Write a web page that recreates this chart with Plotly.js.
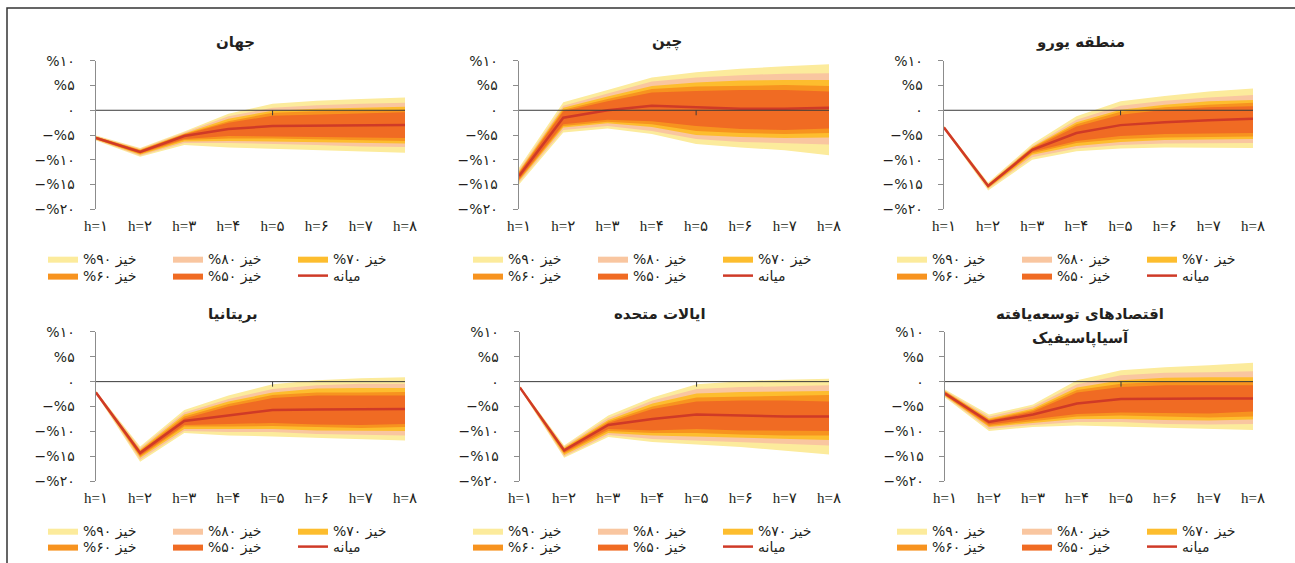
<!DOCTYPE html>
<html><head><meta charset="utf-8">
<script src="https://cdn.plot.ly/plotly-3.0.1.min.js"></script>
<style>html,body{margin:0;padding:0;background:#fff}#chart{width:1295px;height:563px}</style>
</head><body><div id="chart"></div>
<script>
// ---------- categories & tick labels ----------
const horizons = [1, 2, 3, 4, 5, 6, 7, 8];
const hLabels = ['h=۱', 'h=۲', 'h=۳', 'h=۴', 'h=۵', 'h=۶', 'h=۷', 'h=۸'];
const yTickVals = [10, 5, 0, -5, -10, -15, -20];
const yTickText = ['%۱۰', '%۵', '۰', '−%۵', '−%۱۰', '−%۱۵', '−%۲۰'];
const bandNames = ['\u202Bخیز ۹۰%\u202C', '\u202Bخیز ۸۰%\u202C', '\u202Bخیز ۷۰%\u202C', '\u202Bخیز ۶۰%\u202C', '\u202Bخیز ۵۰%\u202C'];
const medianName = 'میانه';
const titles = ['جهان', 'چین', 'منطقه یورو', 'بریتانیا', 'ایالات متحده', 'اقتصادهای توسعه‌یافته'];
const subtitle6 = 'آسیاپاسیفیک';

// ---------- جهان ----------
const world_med  = [-5.6, -8.4, -5.2, -3.8, -3.2, -3.1, -3.0, -3.0];
const world_hi90 = [-5.1, -7.6, -4.3, -0.7, 1.3, 1.9, 2.3, 2.6];
const world_hi80 = [-5.2, -7.8, -4.5, -1.2, 0.5, 1.0, 1.3, 1.5];
const world_hi70 = [-5.3, -7.95, -4.7, -1.7, -0.1, 0.3, 0.5, 0.7];
const world_hi60 = [-5.35, -8.05, -4.8, -2.2, -0.5, -0.2, -0.1, 0.1];
const world_hi50 = [-5.4, -8.15, -4.9, -2.5, -1.1, -0.9, -0.7, -0.4];
const world_lo50 = [-5.8, -8.7, -5.8, -5.2, -5.2, -5.4, -5.5, -5.6];
const world_lo60 = [-5.85, -8.85, -6.0, -5.7, -5.7, -5.8, -6.0, -6.2];
const world_lo70 = [-5.9, -9.0, -6.3, -6.2, -6.4, -6.5, -6.6, -6.7];
const world_lo80 = [-6.0, -9.2, -6.6, -6.6, -6.8, -7.0, -7.3, -7.4];
const world_lo90 = [-6.1, -9.4, -7.0, -7.5, -7.8, -8.1, -8.3, -8.6];

// ---------- چین ----------
const china_med  = [-13.3, -1.5, 0.0, 0.9, 0.6, 0.3, 0.3, 0.5];
const china_hi90 = [-11.6, 1.6, 4.1, 6.6, 7.7, 8.4, 8.9, 9.3];
const china_hi80 = [-12.0, 0.9, 3.4, 5.8, 6.6, 7.1, 7.4, 7.5];
const china_hi70 = [-12.3, 0.5, 2.8, 4.9, 5.6, 6.0, 6.1, 6.1];
const china_hi60 = [-12.5, 0.1, 2.3, 4.3, 4.8, 5.0, 5.1, 4.9];
const china_hi50 = [-12.7, -0.2, 1.8, 3.6, 3.9, 4.1, 4.1, 3.8];
const china_lo50 = [-13.9, -2.8, -1.9, -2.2, -3.2, -3.8, -4.0, -3.7];
const china_lo60 = [-14.1, -3.2, -2.3, -2.8, -4.2, -4.6, -4.8, -4.6];
const china_lo70 = [-14.3, -3.5, -2.6, -3.4, -5.0, -5.4, -5.6, -5.5];
const china_lo80 = [-14.6, -4.0, -3.2, -4.2, -5.8, -6.4, -6.6, -6.9];
const china_lo90 = [-15.0, -4.5, -3.7, -4.8, -6.8, -7.5, -8.1, -9.1];

// ---------- منطقه یورو ----------
const euro_med  = [-3.5, -15.3, -8.0, -4.6, -3.0, -2.4, -2.0, -1.7];
const euro_hi90 = [-3.2, -14.6, -6.8, -1.2, 1.8, 2.9, 3.8, 4.4];
const euro_hi80 = [-3.25, -14.8, -7.2, -1.9, 0.9, 1.9, 2.6, 3.1];
const euro_hi70 = [-3.3, -14.9, -7.4, -2.4, 0.1, 1.1, 1.8, 2.1];
const euro_hi60 = [-3.35, -15.0, -7.5, -2.8, -0.3, 0.6, 1.1, 1.5];
const euro_hi50 = [-3.4, -15.1, -7.7, -3.3, -0.9, 0.1, 0.6, 0.8];
const euro_lo50 = [-3.6, -15.5, -8.4, -6.2, -5.2, -4.8, -4.7, -4.6];
const euro_lo60 = [-3.65, -15.6, -8.7, -6.6, -5.8, -5.5, -5.4, -5.3];
const euro_lo70 = [-3.7, -15.75, -9.0, -7.2, -6.4, -6.0, -5.9, -5.8];
const euro_lo80 = [-3.75, -15.9, -9.5, -7.7, -7.0, -6.7, -6.6, -6.6];
const euro_lo90 = [-3.8, -16.2, -10.0, -8.3, -7.7, -7.5, -7.5, -7.6];

// ---------- بریتانیا ----------
const uk_med  = [-2.2, -14.3, -7.9, -6.8, -5.7, -5.6, -5.5, -5.5];
const uk_hi90 = [-1.9, -13.0, -5.7, -2.8, -0.5, 0.3, 0.7, 0.9];
const uk_hi80 = [-1.95, -13.3, -6.2, -3.5, -1.5, -0.7, -0.4, -0.4];
const uk_hi70 = [-2.0, -13.6, -6.6, -4.0, -2.2, -1.4, -1.3, -1.3];
const uk_hi60 = [-2.05, -13.8, -7.0, -4.5, -2.7, -2.2, -2.2, -2.1];
const uk_hi50 = [-2.1, -14.0, -7.4, -5.0, -3.3, -2.8, -2.8, -2.8];
const uk_lo50 = [-2.3, -14.8, -8.7, -8.5, -8.3, -8.6, -8.7, -8.5];
const uk_lo60 = [-2.35, -15.0, -9.0, -9.0, -8.9, -9.1, -9.3, -9.1];
const uk_lo70 = [-2.4, -15.3, -9.5, -9.5, -9.5, -9.8, -9.9, -9.9];
const uk_lo80 = [-2.45, -15.7, -9.9, -10.1, -10.1, -10.5, -10.7, -10.8];
const uk_lo90 = [-2.5, -16.1, -10.3, -10.8, -11.0, -11.3, -11.5, -11.8];

// ---------- ایالات متحده ----------
const us_med  = [-1.2, -13.8, -8.7, -7.5, -6.6, -6.8, -7.0, -7.0];
const us_hi90 = [-0.9, -12.8, -6.8, -3.2, -0.5, 0.1, 0.4, 0.6];
const us_hi80 = [-0.95, -13.0, -7.3, -3.8, -1.5, -1.1, -0.9, -0.7];
const us_hi70 = [-1.0, -13.2, -7.7, -4.4, -2.4, -2.1, -2.0, -1.9];
const us_hi60 = [-1.05, -13.4, -8.0, -5.0, -3.2, -3.0, -2.8, -2.7];
const us_hi50 = [-1.1, -13.5, -8.3, -5.5, -4.0, -3.8, -3.8, -4.0];
const us_lo50 = [-1.3, -14.2, -9.5, -9.8, -9.5, -9.8, -9.9, -9.9];
const us_lo60 = [-1.35, -14.4, -9.9, -10.3, -10.3, -10.6, -10.8, -10.8];
const us_lo70 = [-1.4, -14.7, -10.3, -10.8, -11.0, -11.3, -11.5, -11.7];
const us_lo80 = [-1.45, -15.0, -10.7, -11.5, -11.8, -12.1, -12.5, -12.8];
const us_lo90 = [-1.5, -15.3, -11.1, -12.1, -12.6, -13.1, -13.8, -14.6];

// ---------- اقتصادهای توسعه‌یافته آسیاپاسیفیک ----------
const apac_med  = [-2.4, -8.1, -6.6, -4.4, -3.5, -3.4, -3.4, -3.4];
const apac_hi90 = [-1.6, -6.6, -4.6, 0.3, 2.3, 2.9, 3.3, 3.8];
const apac_hi80 = [-1.8, -7.0, -5.0, -0.5, 1.3, 1.8, 1.9, 2.1];
const apac_hi70 = [-1.9, -7.4, -5.4, -1.2, 0.3, 0.8, 0.9, 0.9];
const apac_hi60 = [-2.0, -7.6, -5.7, -1.7, -0.4, 0.0, 0.1, 0.1];
const apac_hi50 = [-2.1, -7.8, -6.0, -2.2, -1.1, -0.7, -0.7, -0.7];
const apac_lo50 = [-2.7, -8.6, -7.6, -6.5, -6.2, -6.3, -6.4, -6.0];
const apac_lo60 = [-2.8, -8.9, -7.9, -7.0, -6.8, -7.0, -7.2, -7.0];
const apac_lo70 = [-2.9, -9.1, -8.3, -7.5, -7.5, -7.7, -7.8, -7.6];
const apac_lo80 = [-3.0, -9.5, -8.7, -8.1, -8.1, -8.5, -8.6, -8.5];
const apac_lo90 = [-3.2, -9.9, -9.1, -8.8, -9.0, -9.3, -9.5, -9.7];

// ---------- style ----------
const bandColors = ['#FCEB9C', '#F9C6A0', '#FDBD2E', '#F7931F', '#F06B23'];
const medianColor = '#CF3A27';
const axisGray = '#8c8c8c';
const textColor = '#231f20';
const FONT = 'DejaVu Sans, Noto Sans, sans-serif';
const ZERO_TICK_AT = 5;

const panelData = [
  {med: world_med, hi: [world_hi90, world_hi80, world_hi70, world_hi60, world_hi50], lo: [world_lo90, world_lo80, world_lo70, world_lo60, world_lo50]},
  {med: china_med, hi: [china_hi90, china_hi80, china_hi70, china_hi60, china_hi50], lo: [china_lo90, china_lo80, china_lo70, china_lo60, china_lo50]},
  {med: euro_med, hi: [euro_hi90, euro_hi80, euro_hi70, euro_hi60, euro_hi50], lo: [euro_lo90, euro_lo80, euro_lo70, euro_lo60, euro_lo50]},
  {med: uk_med, hi: [uk_hi90, uk_hi80, uk_hi70, uk_hi60, uk_hi50], lo: [uk_lo90, uk_lo80, uk_lo70, uk_lo60, uk_lo50]},
  {med: us_med, hi: [us_hi90, us_hi80, us_hi70, us_hi60, us_hi50], lo: [us_lo90, us_lo80, us_lo70, us_lo60, us_lo50]},
  {med: apac_med, hi: [apac_hi90, apac_hi80, apac_hi70, apac_hi60, apac_hi50], lo: [apac_lo90, apac_lo80, apac_lo70, apac_lo60, apac_lo50]}
];

// ---------- layout geometry (pixels) ----------
const W = 1295, H = 563;
const geo = [
  {x0: 96,  x1: 405,  top: 61,  bot: 210, tx: 235,  ty: 42,  lx: 48,  ly1: 260, ly2: 277},
  {x0: 519, x1: 829,  top: 61,  bot: 210, tx: 667,  ty: 42,  lx: 473, ly1: 260, ly2: 277},
  {x0: 944, x1: 1253, top: 61,  bot: 210, tx: 1080, ty: 42,  lx: 897, ly1: 260, ly2: 277},
  {x0: 96,  x1: 405,  top: 333, bot: 483, tx: 233,  ty: 315, lx: 48,  ly1: 533, ly2: 549},
  {x0: 520, x1: 829,  top: 333, bot: 483, tx: 660,  ty: 315, lx: 473, ly1: 533, ly2: 549},
  {x0: 945, x1: 1253, top: 333, bot: 483, tx: 1080, ty: 315, lx: 897, ly1: 533, ly2: 549}
];
const LEG_DX = -5, ENTRY_W = 80;

const px = v => v / W, py = v => 1 - v / H;
const traces = [];
const layout = {
  width: W, height: H, margin: {l: 0, r: 0, t: 0, b: 0},
  paper_bgcolor: '#fff', plot_bgcolor: 'rgba(0,0,0,0)',
  font: {family: FONT, color: textColor},
  annotations: [], shapes: []
};

const xBack = horizons.concat(horizons.slice().reverse());

panelData.forEach((p, i) => {
  const g = geo[i];
  const n = i + 1;
  const xa = 'x' + (n === 1 ? '' : n), ya = 'y' + (n === 1 ? '' : n);
  const legA = 'legend' + (2 * i + 1 === 1 ? '' : (2 * i + 1));
  const legB = 'legend' + (2 * i + 2);
  for (let b = 0; b < 5; b++) {
    traces.push({
      type: 'scatter', mode: 'lines', x: xBack,
      y: p.hi[b].concat(p.lo[b].slice().reverse()),
      fill: 'toself', fillcolor: bandColors[b],
      line: {width: 0, color: bandColors[b]},
      name: bandNames[b], legend: b < 3 ? legA : legB,
      xaxis: xa, yaxis: ya, hoverinfo: 'skip'
    });
  }
  traces.push({
    type: 'scatter', mode: 'lines', x: horizons, y: p.med,
    line: {color: medianColor, width: 2.5},
    name: medianName, legend: legB, xaxis: xa, yaxis: ya, hoverinfo: 'skip'
  });

  layout['xaxis' + (n === 1 ? '' : n)] = {
    domain: [px(g.x0), px(g.x1)], anchor: ya, range: [1, 8],
    tickvals: horizons, ticktext: hLabels, ticks: '', showline: false,
    showgrid: false, zeroline: false, ticklabelstandoff: 6,
    tickfont: {family: 'Liberation Serif, DejaVu Sans, serif', size: 15, color: textColor},
    fixedrange: true
  };
  layout['yaxis' + (n === 1 ? '' : n)] = {
    domain: [py(g.bot), py(g.top)], anchor: xa, range: [-20, 10],
    tickvals: yTickVals, ticktext: yTickText, ticks: 'outside', ticklen: 5,
    tickcolor: axisGray, tickwidth: 1, showline: true, linecolor: axisGray, linewidth: 1.5,
    showgrid: false, zeroline: false, ticklabelstandoff: 12,
    tickfont: {family: FONT, size: 14, color: textColor}, fixedrange: true
  };
  // zero line across the panel and its single tick at h=5
  layout.shapes.push({type: 'line', xref: xa + ' domain', x0: 0, x1: 1, yref: ya, y0: 0, y1: 0,
    line: {color: '#3a3a3a', width: 1}, layer: 'above'});
  layout.shapes.push({type: 'line', xref: xa, x0: ZERO_TICK_AT, x1: ZERO_TICK_AT, yref: ya,
    ysizemode: 'pixel', yanchor: 0, y0: 0, y1: -5, line: {color: '#3a3a3a', width: 1}, layer: 'above'});

  layout.annotations.push({text: '<b>' + titles[i] + '</b>', xref: 'paper', yref: 'paper', x: px(g.tx), y: py(g.ty),
    xanchor: 'center', yanchor: 'middle', showarrow: false, font: {family: FONT, size: 15, color: textColor}});

  const legCommon = {orientation: 'h', xref: 'paper', yref: 'paper', xanchor: 'left', yanchor: 'middle',
    bgcolor: 'rgba(0,0,0,0)', borderwidth: 0, entrywidth: ENTRY_W, entrywidthmode: 'pixels',
    font: {family: FONT, size: 14, color: textColor}, itemclick: false, itemdoubleclick: false,
    traceorder: 'normal'};
  layout[legA] = Object.assign({}, legCommon, {x: px(g.lx + LEG_DX), y: py(g.ly1)});
  layout[legB] = Object.assign({}, legCommon, {x: px(g.lx + LEG_DX), y: py(g.ly2)});
});

layout.annotations.push({text: '<b>' + subtitle6 + '</b>', xref: 'paper', yref: 'paper', x: px(1080), y: py(340),
  xanchor: 'center', yanchor: 'middle', showarrow: false, font: {family: FONT, size: 15, color: textColor}});

// outer frame
layout.shapes.push({type: 'rect', xref: 'paper', yref: 'paper', x0: px(7), x1: 1.02, y0: -0.05, y1: py(8),
  line: {color: '#333', width: 1.5}, fillcolor: 'rgba(0,0,0,0)', layer: 'below'});

Plotly.newPlot('chart', traces, layout, {displayModeBar: false, staticPlot: true});
</script>
</body></html>
